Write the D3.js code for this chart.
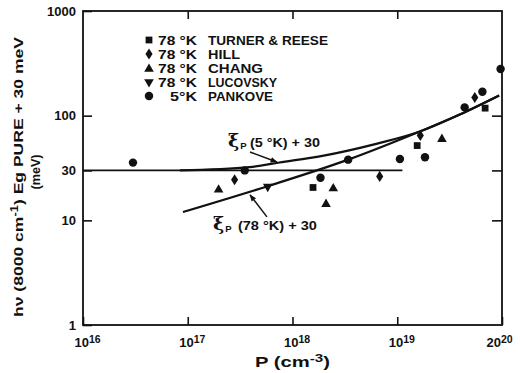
<!DOCTYPE html>
<html><head><meta charset="utf-8">
<script src="https://cdn.jsdelivr.net/npm/d3@7"></script>
<style>
body{margin:0;background:#fff;}
text{font-family:"Liberation Sans",Arial,sans-serif;font-weight:bold;fill:#111;}
</style></head>
<body><svg id="c" width="520" height="373"></svg>
<script>
// ---- data ----
const turnerP = [1.57e18, 1.55e19, 6.9e19];
const turnerE = [20.6, 51.8, 118];
const hillP = [2.8e17, 6.8e18, 1.66e19, 5.5e19];
const hillE = [24.4, 26.3, 64.7, 149];
const changP = [1.97e17, 2.09e18, 2.45e18, 2.67e19];
const changE = [20, 14.6, 20.6, 61];
const lucovskyP = [5.8e17];
const lucovskyE = [21];
const pankoveP = [3e16, 3.5e17, 1.85e18, 3.4e18, 1.06e19, 1.84e19, 4.4e19, 6.5e19, 9.7e19];
const pankoveE = [35.6, 30, 25.5, 38, 38.6, 40, 120, 169, 279];

const curve5P = [8.4e16, 3.9e17, 7.5e17, 1.93e18, 6.3e18, 1.62e19, 3.9e19, 9.4e19];
const curve5E = [30, 32.3, 35.7, 41.3, 53.8, 70.2, 102, 156];
const curve78P = [9e16, 5.8e17, 3.4e18, 1.62e19, 3.9e19, 9.4e19];
const curve78E = [12, 21.2, 38, 70.2, 102, 156];
const flatP = [1e16, 1.12e19];
const flatE = [30, 30];

const legendTemps = ["78 \u00B0K", "78 \u00B0K", "78 \u00B0K", "78 \u00B0K", "5\u00B0K"];
const legendNames = ["TURNER & REESE", "HILL", "CHANG", "LUCOVSKY", "PANKOVE"];
const legendSymbols = ["square", "diamond", "up", "down", "circle"];

const xTickVals = [1e16, 1e17, 1e18, 1e19, 1e20];
const xTickBase = ["10", "10", "10", "10", "20"];
const xTickExp = ["16", "17", "18", "19", "20"];
const yTickVals = [1, 10, 30, 100, 1000];
const yTickLabels = ["1", "10", "30", "100", "1000"];

// ---- chart ----
const svg = d3.select("#c");
const L = 83, R = 502, T = 11, B = 325;
const x = d3.scaleLog().domain([1e16, 1e20]).range([L, R]);
const y = d3.scaleLog().domain([1, 1000]).range([B, T]);

// axes
const gB = svg.append("g").attr("transform", `translate(0,${B})`)
  .call(d3.axisBottom(x).tickValues(xTickVals).tickSize(-8).tickPadding(6).tickFormat(() => ""));
const gT = svg.append("g").attr("transform", `translate(0,${T})`)
  .call(d3.axisTop(x).tickValues([1e17, 1e18, 1e19]).tickSize(-8).tickFormat(() => ""));
const gL = svg.append("g").attr("transform", `translate(${L},0)`)
  .call(d3.axisLeft(y).tickValues(yTickVals).tickSize(-9).tickPadding(5)
    .tickFormat((d) => yTickLabels[yTickVals.indexOf(d)]));
const gR = svg.append("g").attr("transform", `translate(${R},0)`)
  .call(d3.axisRight(y).tickValues([10, 30, 100]).tickSize(-10).tickFormat(() => ""));
[gB, gT, gL, gR].forEach(g => {
  g.select(".domain").remove();
  g.selectAll(".tick line").attr("stroke", "#111").attr("stroke-width", 1.6);
  g.selectAll("text").style("font-family", "'Liberation Sans',Arial,sans-serif")
    .style("font-weight", "bold").attr("fill", "#111");
});
gL.selectAll(".tick text").style("font-size", "13px").attr("dx", "-2");

// x tick labels with superscripts
gB.selectAll(".tick text").each(function (d, i) {
  const t = d3.select(this).text("").style("font-size", "13px")
    .attr("text-anchor", "middle").attr("y", 13).attr("dy", "0.71em")
    .attr("dx", i === 4 ? -3 : 4);
  t.append("tspan").text(xTickBase[i]);
  t.append("tspan").attr("dy", "-0.45em").style("font-size", "10.5px").text(xTickExp[i]);
});

// frame
svg.append("rect").attr("x", L).attr("y", T).attr("width", R - L).attr("height", B - T)
  .attr("fill", "none").attr("stroke", "#111").attr("stroke-width", 1.8);

// lines
const line = d3.line().x(d => x(d[0])).y(d => y(d[1])).curve(d3.curveMonotoneX);
const toPts = (P, E) => P.map((p, i) => [p, E[i]]);
svg.append("path").attr("d", line(toPts(flatP, flatE))).attr("fill", "none").attr("stroke", "#111").attr("stroke-width", 1.8);
svg.append("path").attr("d", line(toPts(curve5P, curve5E))).attr("fill", "none").attr("stroke", "#111").attr("stroke-width", 2.2);
svg.append("path").attr("d", line(toPts(curve78P, curve78E))).attr("fill", "none").attr("stroke", "#111").attr("stroke-width", 2.2);

// markers
function symPath(kind) {
  if (kind === "square") return d3.symbol(d3.symbolSquare, 46)();
  if (kind === "circle") return d3.symbol(d3.symbolCircle, 56)();
  if (kind === "up" || kind === "down") return d3.symbol(d3.symbolTriangle, 40)();
  return d3.symbol(d3.symbolDiamond, 36)();
}
function symTransform(kind, px, py) {
  if (kind === "down") return `translate(${px},${py}) rotate(180)`;
  if (kind === "diamond") return `translate(${px},${py}) scale(1.1,1)`;
  if (kind === "up") return `translate(${px},${py + 1})`;
  return `translate(${px},${py})`;
}
const series = [
  ["square", turnerP, turnerE], ["diamond", hillP, hillE], ["up", changP, changE],
  ["down", lucovskyP, lucovskyE], ["circle", pankoveP, pankoveE]
];
series.forEach(([kind, P, E]) => {
  svg.append("g").selectAll("path").data(toPts(P, E)).join("path")
    .attr("d", symPath(kind)).attr("fill", "#111")
    .attr("transform", d => symTransform(kind, x(d[0]), y(d[1])));
});

// legend
const nameW = [120, 32, 55, 69, 65];
const tempW = [39, 39, 39, 39, 27];
const lg = svg.append("g");
legendNames.forEach((n, i) => {
  const yy = 40 + i * 14;
  lg.append("path").attr("d", symPath(legendSymbols[i])).attr("fill", "#111")
    .attr("transform", symTransform(legendSymbols[i], 149, yy));
  lg.append("text").attr("x", 197 - tempW[i]).attr("y", yy + 4.5)
    .attr("textLength", tempW[i]).attr("lengthAdjust", "spacingAndGlyphs")
    .style("font-size", "12.5px").text(legendTemps[i]);
  lg.append("text").attr("x", 208).attr("y", yy + 4.5)
    .attr("textLength", nameW[i]).attr("lengthAdjust", "spacingAndGlyphs")
    .style("font-size", "12.5px").text(n);
});

// annotations (data coords)
const annP = [[2.42e17, 50.2], [1.74e17, 8.09]];
const annT = ["(5 \u00B0K) + 30", "(78 \u00B0K) + 30"];
const annOff = [22, 25];
const annW = [70, 79];
const arrows = [[[3.93e17, 45], [7.1e17, 36.1]], [[5.7e17, 10.8], [3.93e17, 17.5]]];
svg.append("defs").append("marker").attr("id", "ah").attr("viewBox", "0 0 10 10")
  .attr("refX", 9).attr("refY", 5).attr("markerWidth", 10).attr("markerHeight", 7)
  .attr("markerUnits", "userSpaceOnUse").attr("orient", "auto")
  .append("path").attr("d", "M0,1 L10,5 L0,9 Z").attr("fill", "#111");
annP.forEach((a, i) => {
  const t = svg.append("text").attr("x", x(a[0])).attr("y", y(a[1])).style("font-size", "12px");
  t.append("tspan").style("font-size", "19px").style("font-family", "'DejaVu Serif',serif").style("font-weight", "bold").text("\u03BE");
  t.append("tspan").attr("dy", "2").attr("dx", "1").style("font-size", "9.5px").text("P");
  svg.append("text").attr("x", x(a[0]) + annOff[i]).attr("y", y(a[1]))
    .attr("textLength", annW[i]).attr("lengthAdjust", "spacingAndGlyphs")
    .style("font-size", "12.5px").text(annT[i]);
  const ar = arrows[i];
  svg.append("line").attr("x1", x(ar[0][0])).attr("y1", y(ar[0][1]))
    .attr("x2", x(ar[1][0])).attr("y2", y(ar[1][1]))
    .attr("stroke", "#111").attr("stroke-width", 1.5).attr("marker-end", "url(#ah)");
});

// axis titles
svg.append("text").attr("x", 255).attr("y", 367)
  .attr("textLength", 75).attr("lengthAdjust", "spacingAndGlyphs")
  .style("font-size", "14px")
  .call(t => { t.append("tspan").text("P  (cm"); t.append("tspan").attr("dy", "-5").style("font-size", "10.5px").text("-3"); t.append("tspan").attr("dy", "5").text(")"); });
const yl = svg.append("g").attr("transform", "translate(18,177) rotate(-90)");
yl.append("text").attr("y", 5).attr("text-anchor", "middle").style("font-size", "13.5px")
  .attr("textLength", 280).attr("lengthAdjust", "spacingAndGlyphs")
  .call(t => {
    t.append("tspan").text("h\u03BD (8000 cm");
    t.append("tspan").attr("dy", "-5").style("font-size", "10px").text("-1");
    t.append("tspan").attr("dy", "5").text(") Eg  PURE + 30 meV");
  });
svg.append("text").attr("transform", "translate(40,172) rotate(-90)").attr("text-anchor", "middle")
  .attr("textLength", 35).attr("lengthAdjust", "spacingAndGlyphs")
  .style("font-size", "13.5px").text("(meV)");
</script></body></html>
